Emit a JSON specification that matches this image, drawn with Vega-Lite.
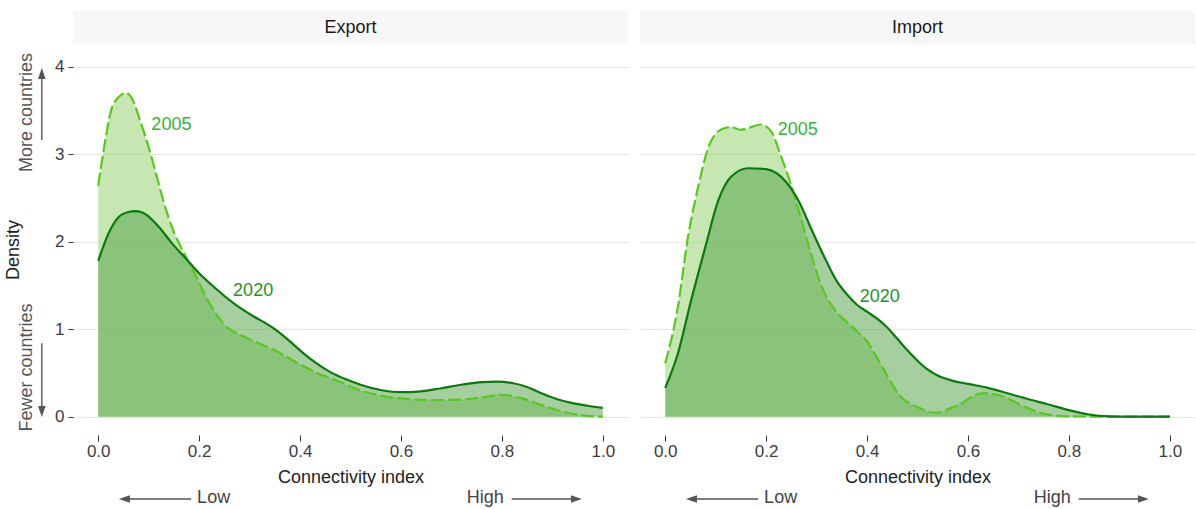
{
  "$schema": "https://vega.github.io/schema/vega-lite/v6.json",
  "autosize": {"type": "pad"},
  "padding": {"left": 5, "top": 11, "right": 0, "bottom": 0},
  "config": {
    "font": "Liberation Sans",
    "view": {"stroke": null},
    "axis": {"labelFlush": false}
  },
  "spacing": 12,
  "datasets": {
    "curves": [
      {"panel": "Export", "year": "2005", "x": 0, "density": 2.64},
      {"panel": "Export", "year": "2005", "x": 0.0125, "density": 3.11},
      {"panel": "Export", "year": "2005", "x": 0.025, "density": 3.49},
      {"panel": "Export", "year": "2005", "x": 0.04, "density": 3.65},
      {"panel": "Export", "year": "2005", "x": 0.055, "density": 3.7},
      {"panel": "Export", "year": "2005", "x": 0.07, "density": 3.6},
      {"panel": "Export", "year": "2005", "x": 0.082, "density": 3.4},
      {"panel": "Export", "year": "2005", "x": 0.1, "density": 3.08},
      {"panel": "Export", "year": "2005", "x": 0.115, "density": 2.77},
      {"panel": "Export", "year": "2005", "x": 0.13, "density": 2.45},
      {"panel": "Export", "year": "2005", "x": 0.15, "density": 2.11},
      {"panel": "Export", "year": "2005", "x": 0.17, "density": 1.87},
      {"panel": "Export", "year": "2005", "x": 0.19, "density": 1.65},
      {"panel": "Export", "year": "2005", "x": 0.21, "density": 1.41},
      {"panel": "Export", "year": "2005", "x": 0.235, "density": 1.16},
      {"panel": "Export", "year": "2005", "x": 0.26, "density": 1.0},
      {"panel": "Export", "year": "2005", "x": 0.28, "density": 0.94},
      {"panel": "Export", "year": "2005", "x": 0.31, "density": 0.86},
      {"panel": "Export", "year": "2005", "x": 0.35, "density": 0.76},
      {"panel": "Export", "year": "2005", "x": 0.39, "density": 0.63},
      {"panel": "Export", "year": "2005", "x": 0.43, "density": 0.51},
      {"panel": "Export", "year": "2005", "x": 0.47, "density": 0.42},
      {"panel": "Export", "year": "2005", "x": 0.52, "density": 0.3},
      {"panel": "Export", "year": "2005", "x": 0.56, "density": 0.24},
      {"panel": "Export", "year": "2005", "x": 0.6, "density": 0.21},
      {"panel": "Export", "year": "2005", "x": 0.66, "density": 0.19},
      {"panel": "Export", "year": "2005", "x": 0.72, "density": 0.195},
      {"panel": "Export", "year": "2005", "x": 0.76, "density": 0.22},
      {"panel": "Export", "year": "2005", "x": 0.8, "density": 0.25},
      {"panel": "Export", "year": "2005", "x": 0.84, "density": 0.21},
      {"panel": "Export", "year": "2005", "x": 0.88, "density": 0.13},
      {"panel": "Export", "year": "2005", "x": 0.92, "density": 0.06},
      {"panel": "Export", "year": "2005", "x": 0.96, "density": 0.015},
      {"panel": "Export", "year": "2005", "x": 1.0, "density": 0.0},
      {"panel": "Export", "year": "2020", "x": 0, "density": 1.78},
      {"panel": "Export", "year": "2020", "x": 0.02, "density": 2.09},
      {"panel": "Export", "year": "2020", "x": 0.04, "density": 2.28},
      {"panel": "Export", "year": "2020", "x": 0.06, "density": 2.34},
      {"panel": "Export", "year": "2020", "x": 0.075, "density": 2.35},
      {"panel": "Export", "year": "2020", "x": 0.095, "density": 2.31},
      {"panel": "Export", "year": "2020", "x": 0.12, "density": 2.17},
      {"panel": "Export", "year": "2020", "x": 0.145, "density": 1.99},
      {"panel": "Export", "year": "2020", "x": 0.17, "density": 1.83},
      {"panel": "Export", "year": "2020", "x": 0.2, "density": 1.64},
      {"panel": "Export", "year": "2020", "x": 0.23, "density": 1.48},
      {"panel": "Export", "year": "2020", "x": 0.27, "density": 1.29},
      {"panel": "Export", "year": "2020", "x": 0.31, "density": 1.14},
      {"panel": "Export", "year": "2020", "x": 0.33, "density": 1.075},
      {"panel": "Export", "year": "2020", "x": 0.35, "density": 1.0},
      {"panel": "Export", "year": "2020", "x": 0.37, "density": 0.91},
      {"panel": "Export", "year": "2020", "x": 0.39, "density": 0.81},
      {"panel": "Export", "year": "2020", "x": 0.41, "density": 0.71},
      {"panel": "Export", "year": "2020", "x": 0.43, "density": 0.62},
      {"panel": "Export", "year": "2020", "x": 0.46, "density": 0.51},
      {"panel": "Export", "year": "2020", "x": 0.49, "density": 0.43},
      {"panel": "Export", "year": "2020", "x": 0.52, "density": 0.365},
      {"panel": "Export", "year": "2020", "x": 0.56, "density": 0.305},
      {"panel": "Export", "year": "2020", "x": 0.6, "density": 0.28},
      {"panel": "Export", "year": "2020", "x": 0.64, "density": 0.29},
      {"panel": "Export", "year": "2020", "x": 0.68, "density": 0.325},
      {"panel": "Export", "year": "2020", "x": 0.72, "density": 0.365},
      {"panel": "Export", "year": "2020", "x": 0.76, "density": 0.395},
      {"panel": "Export", "year": "2020", "x": 0.79, "density": 0.4},
      {"panel": "Export", "year": "2020", "x": 0.82, "density": 0.385},
      {"panel": "Export", "year": "2020", "x": 0.85, "density": 0.34},
      {"panel": "Export", "year": "2020", "x": 0.88, "density": 0.265},
      {"panel": "Export", "year": "2020", "x": 0.91, "density": 0.2},
      {"panel": "Export", "year": "2020", "x": 0.94, "density": 0.155},
      {"panel": "Export", "year": "2020", "x": 0.97, "density": 0.125},
      {"panel": "Export", "year": "2020", "x": 1.0, "density": 0.1},
      {"panel": "Import", "year": "2005", "x": 0, "density": 0.61},
      {"panel": "Import", "year": "2005", "x": 0.025, "density": 1.25},
      {"panel": "Import", "year": "2005", "x": 0.045, "density": 2.05},
      {"panel": "Import", "year": "2005", "x": 0.065, "density": 2.62},
      {"panel": "Import", "year": "2005", "x": 0.085, "density": 3.07},
      {"panel": "Import", "year": "2005", "x": 0.11, "density": 3.28},
      {"panel": "Import", "year": "2005", "x": 0.13, "density": 3.31},
      {"panel": "Import", "year": "2005", "x": 0.15, "density": 3.28},
      {"panel": "Import", "year": "2005", "x": 0.17, "density": 3.31},
      {"panel": "Import", "year": "2005", "x": 0.19, "density": 3.34},
      {"panel": "Import", "year": "2005", "x": 0.21, "density": 3.26},
      {"panel": "Import", "year": "2005", "x": 0.23, "density": 2.97},
      {"panel": "Import", "year": "2005", "x": 0.25, "density": 2.64},
      {"panel": "Import", "year": "2005", "x": 0.265, "density": 2.35},
      {"panel": "Import", "year": "2005", "x": 0.285, "density": 1.94},
      {"panel": "Import", "year": "2005", "x": 0.31, "density": 1.49},
      {"panel": "Import", "year": "2005", "x": 0.335, "density": 1.23},
      {"panel": "Import", "year": "2005", "x": 0.37, "density": 1.03},
      {"panel": "Import", "year": "2005", "x": 0.4, "density": 0.86},
      {"panel": "Import", "year": "2005", "x": 0.43, "density": 0.57},
      {"panel": "Import", "year": "2005", "x": 0.465, "density": 0.24},
      {"panel": "Import", "year": "2005", "x": 0.5, "density": 0.11},
      {"panel": "Import", "year": "2005", "x": 0.535, "density": 0.045},
      {"panel": "Import", "year": "2005", "x": 0.575, "density": 0.12},
      {"panel": "Import", "year": "2005", "x": 0.63, "density": 0.27},
      {"panel": "Import", "year": "2005", "x": 0.67, "density": 0.23},
      {"panel": "Import", "year": "2005", "x": 0.71, "density": 0.12},
      {"panel": "Import", "year": "2005", "x": 0.75, "density": 0.035},
      {"panel": "Import", "year": "2005", "x": 0.8, "density": 0.005},
      {"panel": "Import", "year": "2005", "x": 0.9, "density": 0.0},
      {"panel": "Import", "year": "2005", "x": 1.0, "density": 0.0},
      {"panel": "Import", "year": "2020", "x": 0, "density": 0.33},
      {"panel": "Import", "year": "2020", "x": 0.025, "density": 0.72},
      {"panel": "Import", "year": "2020", "x": 0.05, "density": 1.3},
      {"panel": "Import", "year": "2020", "x": 0.08, "density": 1.95},
      {"panel": "Import", "year": "2020", "x": 0.105, "density": 2.47},
      {"panel": "Import", "year": "2020", "x": 0.13, "density": 2.74},
      {"panel": "Import", "year": "2020", "x": 0.165, "density": 2.84},
      {"panel": "Import", "year": "2020", "x": 0.2, "density": 2.83},
      {"panel": "Import", "year": "2020", "x": 0.24, "density": 2.68},
      {"panel": "Import", "year": "2020", "x": 0.265, "density": 2.46},
      {"panel": "Import", "year": "2020", "x": 0.29, "density": 2.14},
      {"panel": "Import", "year": "2020", "x": 0.32, "density": 1.77},
      {"panel": "Import", "year": "2020", "x": 0.34, "density": 1.55},
      {"panel": "Import", "year": "2020", "x": 0.36, "density": 1.4},
      {"panel": "Import", "year": "2020", "x": 0.38, "density": 1.28},
      {"panel": "Import", "year": "2020", "x": 0.4, "density": 1.2},
      {"panel": "Import", "year": "2020", "x": 0.42, "density": 1.12},
      {"panel": "Import", "year": "2020", "x": 0.44, "density": 1.02},
      {"panel": "Import", "year": "2020", "x": 0.46, "density": 0.89},
      {"panel": "Import", "year": "2020", "x": 0.48, "density": 0.76},
      {"panel": "Import", "year": "2020", "x": 0.5, "density": 0.64},
      {"panel": "Import", "year": "2020", "x": 0.52, "density": 0.54},
      {"panel": "Import", "year": "2020", "x": 0.54, "density": 0.47},
      {"panel": "Import", "year": "2020", "x": 0.57, "density": 0.41},
      {"panel": "Import", "year": "2020", "x": 0.6, "density": 0.375},
      {"panel": "Import", "year": "2020", "x": 0.64, "density": 0.33},
      {"panel": "Import", "year": "2020", "x": 0.68, "density": 0.265},
      {"panel": "Import", "year": "2020", "x": 0.72, "density": 0.2},
      {"panel": "Import", "year": "2020", "x": 0.76, "density": 0.14},
      {"panel": "Import", "year": "2020", "x": 0.8, "density": 0.075},
      {"panel": "Import", "year": "2020", "x": 0.84, "density": 0.025},
      {"panel": "Import", "year": "2020", "x": 0.88, "density": 0.004},
      {"panel": "Import", "year": "2020", "x": 0.92, "density": 0.0},
      {"panel": "Import", "year": "2020", "x": 1.0, "density": 0.0}
    ]
  },
  "hconcat": [
    {
      "width": 555,
      "height": 424,
      "layer": [
        {
          "data": {"values": [{"panel": "Export"}]},
          "mark": {"type": "rect", "fill": "#f7f7f7"},
          "encoding": {
            "x": {"datum": -0.05}, "x2": {"datum": 1.05},
            "y": {"datum": 4.256}, "y2": {"datum": 4.637}
          }
        },
        {
          "data": {"values": [{"panel": "Export"}]},
          "mark": {"type": "text", "fontSize": 18, "color": "#1a1a1a", "baseline": "middle"},
          "encoding": {
            "x": {"datum": 0.5}, "y": {"datum": 4.4465},
            "text": {"field": "panel"}
          }
        },
        {
          "data": {"name": "curves"},
          "transform": [{"filter": "datum.panel === 'Export' && datum.year === '2005'"}],
          "mark": {"type": "area", "interpolate": "monotone", "fill": "#8dcf65", "fillOpacity": 0.5},
          "encoding": {
            "x": {
              "field": "x", "type": "quantitative",
              "scale": {"domain": [-0.05, 1.05], "nice": false, "zero": false},
              "axis": {
                "values": [0, 0.2, 0.4, 0.6, 0.8, 1], "format": ".1f", "grid": false, "domain": false,
                "tickSize": 6, "tickColor": "#333", "labelFontSize": 17, "labelColor": "#3d3d3d",
                "labelPadding": 2, "title": "Connectivity index", "titleFontSize": 18,
                "titleFontWeight": "normal", "titleColor": "#222", "titlePadding": 9
              }
            },
            "y": {
              "field": "density", "type": "quantitative",
              "scale": {"domain": [-0.209, 4.637], "nice": false, "zero": false},
              "axis": {
                "values": [0, 1, 2, 3, 4], "format": "d", "grid": true, "gridColor": "#e6e6e6", "domain": false,
                "tickSize": 5, "tickColor": "#333", "labelFontSize": 17, "labelColor": "#3d3d3d",
                "labelPadding": 4, "title": null
              }
            },
            "y2": {"datum": 0}
          }
        },
        {
          "data": {"name": "curves"},
          "transform": [{"filter": "datum.panel === 'Export' && datum.year === '2020'"}],
          "mark": {"type": "area", "interpolate": "monotone", "fill": "#4d9f41", "fillOpacity": 0.5},
          "encoding": {
            "x": {"field": "x", "type": "quantitative"},
            "y": {"field": "density", "type": "quantitative"},
            "y2": {"datum": 0}
          }
        },
        {
          "data": {"name": "curves"},
          "transform": [{"filter": "datum.panel === 'Export' && datum.year === '2005'"}],
          "mark": {"type": "line", "interpolate": "monotone", "stroke": "#58c81c", "strokeWidth": 2.2, "strokeDash": [13, 4]},
          "encoding": {
            "x": {"field": "x", "type": "quantitative"},
            "y": {"field": "density", "type": "quantitative"}
          }
        },
        {
          "data": {"name": "curves"},
          "transform": [{"filter": "datum.panel === 'Export' && datum.year === '2020'"}],
          "mark": {"type": "line", "interpolate": "monotone", "stroke": "#0a7a0a", "strokeWidth": 2.2},
          "encoding": {
            "x": {"field": "x", "type": "quantitative"},
            "y": {"field": "density", "type": "quantitative"}
          }
        },
        {
          "data": {"values": [{}]},
          "mark": {"type": "text", "text": "2005", "fontSize": 18, "color": "#36b336", "baseline": "middle"},
          "encoding": {"x": {"datum": 0.145}, "y": {"datum": 3.33}}
        },
        {
          "data": {"values": [{}]},
          "mark": {"type": "text", "text": "2020", "fontSize": 18, "color": "#1c951c", "baseline": "middle"},
          "encoding": {"x": {"datum": 0.307}, "y": {"datum": 1.44}}
        },
        {
          "data": {"values": [{}]},
          "mark": {"type": "rule", "color": "#555", "strokeWidth": 1.4},
          "encoding": {"x": {"datum": 0.05}, "x2": {"datum": 0.184}, "y": {"datum": -0.941}}
        },
        {
          "data": {"values": [{}]},
          "mark": {"type": "point", "shape": "M0,0L1.1,-0.38L1.1,0.38Z", "size": 400, "filled": true, "color": "#555", "opacity": 1},
          "encoding": {"x": {"datum": 0.041}, "y": {"datum": -0.941}}
        },
        {
          "data": {"values": [{}]},
          "mark": {"type": "text", "text": "Low", "fontSize": 18, "color": "#444", "align": "left", "baseline": "middle"},
          "encoding": {"x": {"datum": 0.196}, "y": {"datum": -0.93}}
        },
        {
          "data": {"values": [{}]},
          "mark": {"type": "rule", "color": "#555", "strokeWidth": 1.4},
          "encoding": {"x": {"datum": 0.8195}, "x2": {"datum": 0.95}, "y": {"datum": -0.941}}
        },
        {
          "data": {"values": [{}]},
          "mark": {"type": "point", "shape": "M0,0L-1.1,-0.38L-1.1,0.38Z", "size": 400, "filled": true, "color": "#555", "opacity": 1},
          "encoding": {"x": {"datum": 0.9587}, "y": {"datum": -0.941}}
        },
        {
          "data": {"values": [{}]},
          "mark": {"type": "text", "text": "High", "fontSize": 18, "color": "#444", "align": "right", "baseline": "middle"},
          "encoding": {"x": {"datum": 0.804}, "y": {"datum": -0.93}}
        },
        {
          "data": {"values": [{}]},
          "mark": {"type": "text", "text": "Density", "fontSize": 18, "color": "#222", "angle": 270, "baseline": "middle"},
          "encoding": {"x": {"datum": -0.166}, "y": {"datum": 1.905}}
        },
        {
          "data": {"values": [{}]},
          "mark": {"type": "text", "text": "More countries", "fontSize": 18, "color": "#555", "angle": 270, "baseline": "middle"},
          "encoding": {"x": {"datum": -0.1406}, "y": {"datum": 3.477}}
        },
        {
          "data": {"values": [{}]},
          "mark": {"type": "rule", "color": "#555", "strokeWidth": 1.4},
          "encoding": {"x": {"datum": -0.1118}, "y": {"datum": 3.162}, "y2": {"datum": 3.9}}
        },
        {
          "data": {"values": [{}]},
          "mark": {"type": "point", "shape": "M0,0L-0.38,1.1L0.38,1.1Z", "size": 400, "filled": true, "color": "#555", "opacity": 1},
          "encoding": {"x": {"datum": -0.1118}, "y": {"datum": 3.985}}
        },
        {
          "data": {"values": [{}]},
          "mark": {"type": "text", "text": "Fewer countries", "fontSize": 18, "color": "#555", "angle": 270, "baseline": "middle"},
          "encoding": {"x": {"datum": -0.1406}, "y": {"datum": 0.562}}
        },
        {
          "data": {"values": [{}]},
          "mark": {"type": "rule", "color": "#555", "strokeWidth": 1.4},
          "encoding": {"x": {"datum": -0.1118}, "y": {"datum": 0.84}, "y2": {"datum": 0.08}}
        },
        {
          "data": {"values": [{}]},
          "mark": {"type": "point", "shape": "M0,0L-0.38,-1.1L0.38,-1.1Z", "size": 400, "filled": true, "color": "#555", "opacity": 1},
          "encoding": {"x": {"datum": -0.1118}, "y": {"datum": -0.003}}
        }
      ]
    },
    {
      "width": 555,
      "height": 424,
      "layer": [
        {
          "data": {"values": [{"panel": "Import"}]},
          "mark": {"type": "rect", "fill": "#f7f7f7"},
          "encoding": {
            "x": {"datum": -0.05}, "x2": {"datum": 1.05},
            "y": {"datum": 4.256}, "y2": {"datum": 4.637}
          }
        },
        {
          "data": {"values": [{"panel": "Import"}]},
          "mark": {"type": "text", "fontSize": 18, "color": "#1a1a1a", "baseline": "middle"},
          "encoding": {
            "x": {"datum": 0.5}, "y": {"datum": 4.4465},
            "text": {"field": "panel"}
          }
        },
        {
          "data": {"name": "curves"},
          "transform": [{"filter": "datum.panel === 'Import' && datum.year === '2005'"}],
          "mark": {"type": "area", "interpolate": "monotone", "fill": "#8dcf65", "fillOpacity": 0.5},
          "encoding": {
            "x": {
              "field": "x", "type": "quantitative",
              "scale": {"domain": [-0.05, 1.05], "nice": false, "zero": false},
              "axis": {
                "values": [0, 0.2, 0.4, 0.6, 0.8, 1], "format": ".1f", "grid": false, "domain": false,
                "tickSize": 6, "tickColor": "#333", "labelFontSize": 17, "labelColor": "#3d3d3d",
                "labelPadding": 2, "title": "Connectivity index", "titleFontSize": 18,
                "titleFontWeight": "normal", "titleColor": "#222", "titlePadding": 9
              }
            },
            "y": {
              "field": "density", "type": "quantitative",
              "scale": {"domain": [-0.209, 4.637], "nice": false, "zero": false},
              "axis": {
                "values": [0, 1, 2, 3, 4], "grid": true, "gridColor": "#e6e6e6", "domain": false,
                "ticks": false, "labels": false, "title": null
              }
            },
            "y2": {"datum": 0}
          }
        },
        {
          "data": {"name": "curves"},
          "transform": [{"filter": "datum.panel === 'Import' && datum.year === '2020'"}],
          "mark": {"type": "area", "interpolate": "monotone", "fill": "#4d9f41", "fillOpacity": 0.5},
          "encoding": {
            "x": {"field": "x", "type": "quantitative"},
            "y": {"field": "density", "type": "quantitative"},
            "y2": {"datum": 0}
          }
        },
        {
          "data": {"name": "curves"},
          "transform": [{"filter": "datum.panel === 'Import' && datum.year === '2005'"}],
          "mark": {"type": "line", "interpolate": "monotone", "stroke": "#58c81c", "strokeWidth": 2.2, "strokeDash": [13, 4]},
          "encoding": {
            "x": {"field": "x", "type": "quantitative"},
            "y": {"field": "density", "type": "quantitative"}
          }
        },
        {
          "data": {"name": "curves"},
          "transform": [{"filter": "datum.panel === 'Import' && datum.year === '2020'"}],
          "mark": {"type": "line", "interpolate": "monotone", "stroke": "#0a7a0a", "strokeWidth": 2.2},
          "encoding": {
            "x": {"field": "x", "type": "quantitative"},
            "y": {"field": "density", "type": "quantitative"}
          }
        },
        {
          "data": {"values": [{}]},
          "mark": {"type": "text", "text": "2005", "fontSize": 18, "color": "#36b336", "baseline": "middle"},
          "encoding": {"x": {"datum": 0.2625}, "y": {"datum": 3.28}}
        },
        {
          "data": {"values": [{}]},
          "mark": {"type": "text", "text": "2020", "fontSize": 18, "color": "#1c951c", "baseline": "middle"},
          "encoding": {"x": {"datum": 0.425}, "y": {"datum": 1.37}}
        },
        {
          "data": {"values": [{}]},
          "mark": {"type": "rule", "color": "#555", "strokeWidth": 1.4},
          "encoding": {"x": {"datum": 0.05}, "x2": {"datum": 0.184}, "y": {"datum": -0.941}}
        },
        {
          "data": {"values": [{}]},
          "mark": {"type": "point", "shape": "M0,0L1.1,-0.38L1.1,0.38Z", "size": 400, "filled": true, "color": "#555", "opacity": 1},
          "encoding": {"x": {"datum": 0.041}, "y": {"datum": -0.941}}
        },
        {
          "data": {"values": [{}]},
          "mark": {"type": "text", "text": "Low", "fontSize": 18, "color": "#444", "align": "left", "baseline": "middle"},
          "encoding": {"x": {"datum": 0.196}, "y": {"datum": -0.93}}
        },
        {
          "data": {"values": [{}]},
          "mark": {"type": "rule", "color": "#555", "strokeWidth": 1.4},
          "encoding": {"x": {"datum": 0.8195}, "x2": {"datum": 0.95}, "y": {"datum": -0.941}}
        },
        {
          "data": {"values": [{}]},
          "mark": {"type": "point", "shape": "M0,0L-1.1,-0.38L-1.1,0.38Z", "size": 400, "filled": true, "color": "#555", "opacity": 1},
          "encoding": {"x": {"datum": 0.9587}, "y": {"datum": -0.941}}
        },
        {
          "data": {"values": [{}]},
          "mark": {"type": "text", "text": "High", "fontSize": 18, "color": "#444", "align": "right", "baseline": "middle"},
          "encoding": {"x": {"datum": 0.804}, "y": {"datum": -0.93}}
        }
      ]
    }
  ]
}
